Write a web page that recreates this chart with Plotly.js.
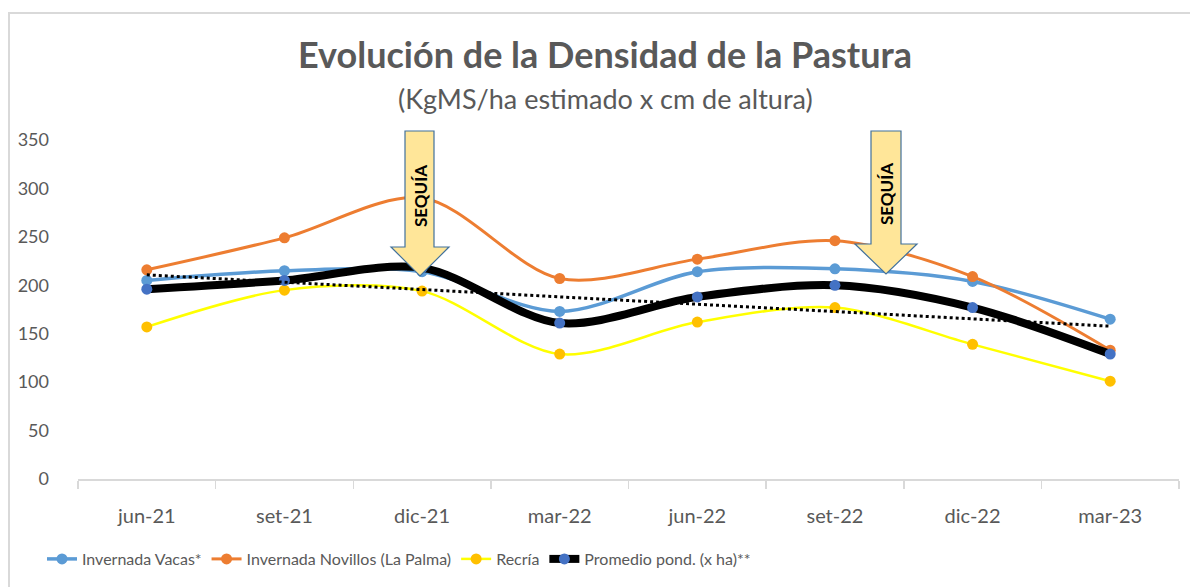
<!DOCTYPE html>
<html>
<head>
<meta charset="utf-8">
<script src="https://cdn.plot.ly/plotly-3.0.1.min.js"></script>
<style>
  html, body { margin: 0; padding: 0; background: #fff; }
  #wrap { position: relative; width: 1190px; height: 587px; overflow: hidden; }
  #chart { position: absolute; left: 0; top: 0; width: 1190px; height: 587px; }
  #frame { position: absolute; left: 8px; top: 12px; width: 1200px; height: 600px;
           border-left: 2px solid #D9D9D9; border-top: 2px solid #D9D9D9; pointer-events: none; }
</style>
</head>
<body>
<div id="wrap">
  <div id="chart"></div>
  <div id="frame"></div>
</div>
<script>
const categories = ["jun-21", "set-21", "dic-21", "mar-22", "jun-22", "set-22", "dic-22", "mar-23"];
const invernadaVacas = [205, 215, 214, 173, 214, 217, 204, 165];
const invernadaNovillos = [216, 249, 290, 207, 227, 246, 209, 133];
const recria = [157, 195, 194, 129, 162, 177, 139, 101];
const promedio = [196, 205, 218, 161, 188, 200, 177, 129];
const seriesNames = ["Invernada Vacas*", "Invernada Novillos (La Palma)", "Recría", "Promedio pond. (x ha)**"];

// Linear trendline of the weighted average (as Excel computes it)
const n = promedio.length;
const xs = promedio.map((_, i) => i);
const mx = xs.reduce((a, b) => a + b, 0) / n;
const my = promedio.reduce((a, b) => a + b, 0) / n;
let sxy = 0, sxx = 0;
for (let i = 0; i < n; i++) { sxy += (xs[i] - mx) * (promedio[i] - my); sxx += (xs[i] - mx) ** 2; }
const slope = sxy / sxx, intercept = my - slope * mx;
const trend = xs.map(x => intercept + slope * x);

const txt = "#595959";
const font = "Lato, 'Open Sans', sans-serif";

const traces = [
  { x: categories, y: invernadaVacas, name: seriesNames[0], type: "scatter", mode: "lines+markers",
    line: { color: "#5B9BD5", width: 3.5, shape: "spline", smoothing: 0.9 },
    marker: { color: "#5B9BD5", size: 11 } },
  { x: categories, y: invernadaNovillos, name: seriesNames[1], type: "scatter", mode: "lines+markers",
    line: { color: "#ED7D31", width: 3, shape: "spline", smoothing: 0.9 },
    marker: { color: "#ED7D31", size: 11 } },
  { x: categories, y: recria, name: seriesNames[2], type: "scatter", mode: "lines+markers",
    line: { color: "#FFFF00", width: 2.5, shape: "spline", smoothing: 0.9 },
    marker: { color: "#FFC000", size: 11 } },
  { x: categories, y: promedio, name: seriesNames[3], type: "scatter", mode: "lines+markers",
    line: { color: "#000000", width: 8, shape: "spline", smoothing: 0.9 },
    marker: { color: "#4472C4", size: 11 } },
  { x: categories, y: trend, name: "Lineal (Promedio)", type: "scatter", mode: "lines",
    line: { color: "#000000", width: 3, dash: "dot" }, showlegend: false }
];

// plot area in pixels
const L = 78, R = 1179, T = 140, B = 479;
const px = v => (v - L) / (R - L);
const py = v => (B - v) / (B - T);
function arrowPath(bx0, bx1, hx0, hx1, top, hy, tipY) {
  const tipX = (hx0 + hx1) / 2;
  const pts = [[bx0, top], [bx1, top], [bx1, hy], [hx1, hy], [tipX, tipY], [hx0, hy], [bx0, hy]];
  return "M" + pts.map(p => px(p[0]) + "," + py(p[1])).join(" L") + " Z";
}
const shapes = [
  { type: "path", xref: "paper", yref: "paper", path: arrowPath(405, 434, 391, 449, 131, 247, 276),
    fillcolor: "#FFE699", line: { color: "#41719C", width: 1.2 }, layer: "above" },
  { type: "path", xref: "paper", yref: "paper", path: arrowPath(871, 901, 855, 917, 131, 244, 274),
    fillcolor: "#FFE699", line: { color: "#41719C", width: 1.2 }, layer: "above" }
];
const annotations = [
  { xref: "paper", yref: "paper", x: px(420), y: py(196), xanchor: "center", yanchor: "middle",
    text: "<b>SEQUÍA</b>", showarrow: false,
    textangle: -90, font: { family: font, size: 17, color: "#000" } },
  { xref: "paper", yref: "paper", x: px(886), y: py(194), xanchor: "center", yanchor: "middle",
    text: "<b>SEQUÍA</b>", showarrow: false,
    textangle: -90, font: { family: font, size: 17, color: "#000" } },
  { xref: "paper", yref: "paper", x: px(605), y: py(98), xanchor: "center", yanchor: "middle",
    text: "(KgMS/ha estimado x cm de altura)", showarrow: false,
    font: { family: font, size: 27, color: txt } }
];

const layout = {
  width: 1190, height: 587,
  margin: { l: L, r: 1190 - R, t: T, b: 587 - B },
  paper_bgcolor: "#fff", plot_bgcolor: "#fff",
  title: { text: "<b>Evolución de la Densidad de la Pastura</b>", x: px(605), xref: "paper", xanchor: "center",
    y: 1 - 55 / 587, yanchor: "middle", font: { family: font, size: 36, color: txt } },
  xaxis: { type: "category", range: [-0.5, 7.5], showline: true, linecolor: "#D9D9D9", linewidth: 1.5,
    ticks: "outside", tickson: "boundaries", ticklen: 8, tickcolor: "#D9D9D9", tickwidth: 1.5,
    showgrid: false, zeroline: false, ticklabelstandoff: 18,
    tickfont: { family: font, size: 20, color: txt } },
  yaxis: { range: [0, 350], dtick: 50, showline: false, showgrid: false, zeroline: false,
    ticks: "", ticklabelstandoff: 28, tickfont: { family: font, size: 18, color: txt } },
  showlegend: true,
  legend: { orientation: "h", x: px(42), xanchor: "left", y: py(559), yanchor: "middle",
    font: { family: font, size: 16, color: txt },
    itemwidth: 30, tracegroupgap: 0, bgcolor: "rgba(0,0,0,0)" },
  shapes: shapes, annotations: annotations,
  hovermode: false
};

Plotly.newPlot("chart", traces, layout, { displayModeBar: false, staticPlot: true });
</script>
</body>
</html>
